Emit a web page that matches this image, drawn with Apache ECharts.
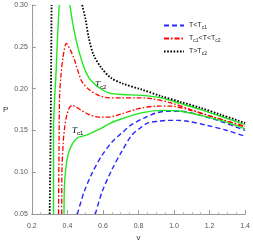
<!DOCTYPE html>
<html><head><meta charset="utf-8">
<script src="https://cdn.jsdelivr.net/npm/echarts@6/dist/echarts.min.js"></script>
<style>html,body{margin:0;padding:0;background:#fff}#c{width:253px;height:247px}</style>
</head><body><div id="c"></div>
<script>
// tick values
const xTicks = [0.2, 0.4, 0.6, 0.8, 1.0, 1.2, 1.4];
const yTicks = [0.05, 0.10, 0.15, 0.20, 0.25, 0.30];
// curves: [v, P]
const blueLow = [[0.557,0.05],[0.594,0.076],[0.65,0.103],[0.706,0.125],[0.761,0.144],[0.81,0.153],[0.854,0.159],[0.91,0.161],[0.965,0.162],[1.02,0.162],[1.076,0.161],[1.187,0.156],[1.298,0.150],[1.4,0.143]];
const blueHigh = [[0.456,0.05],[0.493,0.076],[0.539,0.099],[0.594,0.120],[0.65,0.136],[0.706,0.147],[0.761,0.157],[0.833,0.165],[0.9,0.171],[0.96,0.173],[1.039,0.173],[1.133,0.169],[1.261,0.161],[1.4,0.150]];
const redLow = [[0.368,0.05],[0.369,0.099],[0.376,0.134],[0.383,0.151],[0.394,0.166],[0.411,0.177],[0.428,0.180],[0.45,0.178],[0.472,0.175],[0.521,0.169],[0.576,0.166],[0.632,0.166],[0.706,0.170],[0.80,0.176],[0.90,0.179],[0.983,0.179],[1.094,0.174],[1.222,0.166],[1.4,0.154]];
const redHigh = [[0.35,0.05],[0.353,0.134],[0.356,0.191],[0.363,0.214],[0.375,0.237],[0.394,0.254],[0.417,0.246],[0.439,0.235],[0.461,0.220],[0.483,0.208],[0.521,0.199],[0.576,0.192],[0.632,0.189],[0.706,0.189],[0.80,0.189],[0.872,0.188],[0.983,0.183],[1.094,0.175],[1.206,0.167],[1.4,0.155]];
const greenTc1 = [[0.381,0.05],[0.383,0.082],[0.391,0.105],[0.405,0.122],[0.428,0.134],[0.456,0.141],[0.483,0.143],[0.515,0.145],[0.554,0.149],[0.594,0.153],[0.633,0.158],[0.706,0.164],[0.817,0.171],[0.928,0.174],[1.039,0.173],[1.15,0.168],[1.261,0.162],[1.4,0.152]];
const greenTc2Left = [[0.322,0.05],[0.322,0.151],[0.328,0.188],[0.335,0.214],[0.344,0.260],[0.354,0.30]];
const greenTc2Right = [[0.414,0.30],[0.437,0.270],[0.467,0.243],[0.494,0.225],[0.521,0.213],[0.556,0.205],[0.594,0.199],[0.633,0.195],[0.706,0.193],[0.817,0.192],[0.928,0.189],[1.039,0.182],[1.15,0.175],[1.261,0.167],[1.4,0.157]];
const blackLeft = [[0.30,0.05],[0.305,0.134],[0.311,0.30]];
const blackRight = [[0.483,0.30],[0.502,0.283],[0.521,0.260],[0.548,0.240],[0.594,0.224],[0.644,0.213],[0.711,0.206],[0.817,0.199],[0.928,0.191],[1.039,0.184],[1.15,0.177],[1.261,0.169],[1.4,0.159]];

const legendNames = ['T<T{s|c1}', 'T{s|c1}<T<T{s|c2}', 'T>T{s|c2}'];

const chart = echarts.init(document.getElementById('c'));
const axisCommon = {
  axisLine: {show: true, lineStyle: {color: '#999', width: 1}},
  axisTick: {show: true, inside: true, length: 4, lineStyle: {color: '#999'}},
  splitLine: {show: false}
};
function line(name, data, color, type, width) {
  return {name: name, type: 'line', data: data, symbol: 'none', showSymbol: false, smooth: 0.3, clip: true,
    lineStyle: {color: color, type: type, width: width}, itemStyle: {color: color}, z: 2};
}
chart.setOption({
  animation: false,
  grid: {left: 29, right: 7, top: 5, bottom: 24},
  xAxis: Object.assign({type: 'value', min: xTicks[0], max: xTicks[xTicks.length-1], interval: 0.2,
    name: 'v', nameLocation: 'middle', nameGap: 16, nameTextStyle: {fontSize: 8, color: '#333', fontFamily: 'Liberation Sans'}}, axisCommon,
    {minorTick: {show: true, splitNumber: 4, length: 2, lineStyle: {color: '#bbb'}},
     axisLabel: {color: '#555', fontSize: 7, fontFamily: 'Liberation Sans', formatter: v => v.toFixed(1)}}),
  yAxis: Object.assign({type: 'value', min: yTicks[0], max: yTicks[yTicks.length-1], interval: 0.05,
    name: 'P', nameLocation: 'middle', nameGap: 22, nameRotate: 0, nameTextStyle: {fontSize: 8, color: '#333', fontFamily: 'Liberation Sans'}}, axisCommon,
    {minorTick: {show: true, splitNumber: 5, length: 2, lineStyle: {color: '#bbb'}},
     axisLabel: {color: '#555', fontSize: 7, fontFamily: 'Liberation Sans', margin: 4, formatter: v => v.toFixed(2)}}),
  legend: {
    orient: 'vertical', left: 158, top: 17, itemWidth: 20, itemHeight: 8, itemGap: 5,
    data: legendNames,
    itemStyle: {opacity: 0},
    formatter: n => n,
    textStyle: {fontSize: 7, color: '#222', fontFamily: 'Liberation Sans', rich: {s: {fontSize: 5, verticalAlign: 'bottom', padding: [4,0,0,0]}}}
  },
  series: [
    line(legendNames[0], blueLow, '#2828ff', [5,3], 1.4),
    line(legendNames[0], blueHigh, '#2828ff', [5,3], 1.4),
    line(legendNames[1], redLow, '#ff0000', [5,2,1.5,2], 1.3),
    line(legendNames[1], redHigh, '#ff0000', [5,2,1.5,2], 1.3),
    line('Tc1', greenTc1, '#1ee81e', 'solid', 1.4),
    line('Tc2', greenTc2Left.concat([null], greenTc2Right), '#1ee81e', 'solid', 1.4),
    line(legendNames[2], blackLeft.concat([null], blackRight), '#000', [1.6,1.6], 1.8)
  ],
  graphic: [
    {type: 'text', left: 95, top: 80, style: {text: '{i|T}{s|c2}', rich: {i: {fontStyle: 'italic', fontSize: 9, fontFamily: 'Liberation Serif', fill: '#000'}, s: {fontSize: 6, fontFamily: 'Liberation Sans', fill: '#000', padding: [5,0,0,0]}}}},
    {type: 'text', left: 72, top: 126, style: {text: '{i|T}{s|c1}', rich: {i: {fontStyle: 'italic', fontSize: 9, fontFamily: 'Liberation Serif', fill: '#000'}, s: {fontSize: 6, fontFamily: 'Liberation Sans', fill: '#000', padding: [5,0,0,0]}}}}
  ]
});
</script></body></html>
